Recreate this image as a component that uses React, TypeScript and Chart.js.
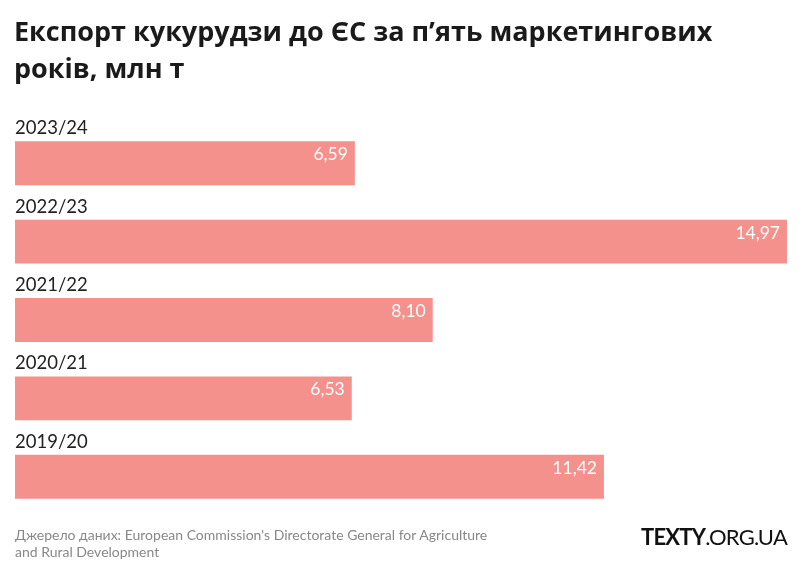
import React, { useEffect, useRef } from "react";
import { Chart, registerables } from "chart.js";

Chart.register(...registerables);

const categories = ["2023/24", "2022/23", "2021/22", "2020/21", "2019/20"];
const exportValues = [6.59, 14.97, 8.1, 6.53, 11.42];
const valueLabels = ["6,59", "14,97", "8,10", "6,53", "11,42"];

const FONT = "Lato, 'Open Sans', sans-serif";
const TITLE_FONT = "'Open Sans', sans-serif";

const labelPlugin = {
  id: "barLabels",
  afterDatasetsDraw(chart: any) {
    const ctx = chart.ctx;
    const meta = chart.getDatasetMeta(0);
    ctx.save();
    meta.data.forEach((bar: any, i: number) => {
      const top = bar.y - bar.height / 2;
      ctx.fillStyle = "#222";
      ctx.font = `18.5px ${FONT}`;
      ctx.textAlign = "left";
      ctx.textBaseline = "alphabetic";
      ctx.fillText(categories[i], chart.chartArea.left, top - 7);
      ctx.fillStyle = "#ffffff";
      ctx.font = `17.5px ${FONT}`;
      ctx.textAlign = "right";
      ctx.fillText(valueLabels[i], bar.x - 7, top + 19);
    });
    ctx.restore();
  },
};

export default function App() {
  const ref = useRef<HTMLCanvasElement>(null);
  useEffect(() => {
    document.body.style.margin = "0";
    const chart = new Chart(ref.current!, {
      type: "bar",
      data: {
        labels: categories,
        datasets: [
          {
            data: exportValues,
            backgroundColor: "#f4918c",
            borderWidth: 0,
            categoryPercentage: 1,
            barPercentage: 0.56,
          },
        ],
      },
      options: {
        indexAxis: "y",
        animation: false,
        responsive: false,
        maintainAspectRatio: false,
        layout: { padding: { top: 124, bottom: 56, left: 15, right: 14 } },
        scales: {
          x: { display: false, min: 0, max: 14.97 },
          y: { display: false },
        },
        plugins: { legend: { display: false }, tooltip: { enabled: false } },
      },
      plugins: [labelPlugin],
    });
    return () => chart.destroy();
  }, []);

  return (
    <div style={{ position: "relative", width: 801, height: 572, background: "#fff", fontFamily: FONT }}>
      <canvas ref={ref} width={801} height={572} style={{ position: "absolute", left: 0, top: 0 }} />
      <div
        style={{
          position: "absolute",
          left: 14,
          top: 12,
          width: 780,
          fontFamily: TITLE_FONT,
          fontSize: 27,
          fontWeight: 700,
          lineHeight: "37px",
          color: "#1a1a1a",
          whiteSpace: "nowrap",
        }}
      >
        Експорт кукурудзи до ЄС за п’ять маркетингових
        <br />
        років, млн т
      </div>
      <div
        style={{
          position: "absolute",
          left: 15,
          top: 526,
          width: 520,
          fontSize: 14,
          lineHeight: "17px",
          color: "#888",
          whiteSpace: "nowrap",
        }}
      >
        Джерело даних: European Commission's Directorate General for Agriculture
        <br />
        and Rural Development
      </div>
      <div
        style={{
          position: "absolute",
          right: 14,
          top: 523,
          fontSize: 22,
          color: "#111",
          letterSpacing: -0.8,
        }}
      >
        <b>TEXTY</b>.ORG.UA
      </div>
    </div>
  );
}
